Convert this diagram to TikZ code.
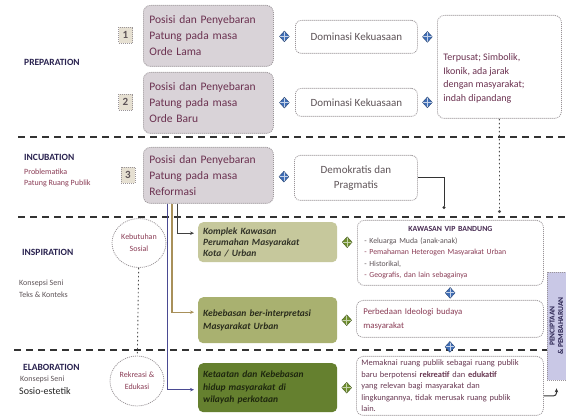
\documentclass[tikz,border=0pt]{standalone}
\usepackage{fontspec}
\setmainfont{Carlito}
\usetikzlibrary{arrows.meta,shapes.geometric,calc}
\definecolor{boxgray}{HTML}{D9D3D8}
\definecolor{bordergray}{HTML}{9A9498}
\definecolor{boxtext}{HTML}{6B3150}
\definecolor{greytext}{HTML}{5E5458}
\definecolor{navy}{HTML}{2A2350}
\definecolor{maroon}{HTML}{8A3C55}
\definecolor{numfill}{HTML}{E6E0D2}
\definecolor{arrblue}{HTML}{3F6DB5}
\definecolor{arrgreen}{HTML}{6E8E2E}
\definecolor{gA}{HTML}{C6C89C}
\definecolor{gB}{HTML}{A9B170}
\definecolor{gC}{HTML}{65802F}
\definecolor{lav}{HTML}{C9C8E6}
\definecolor{tan}{HTML}{A8905A}
\definecolor{bline}{HTML}{4A4A92}
\begin{document}
\begin{tikzpicture}[x=1pt,y=-1pt,
  base/.style={line width=0.8pt, dash pattern=on 1pt off 1pt, draw=bordergray, inner sep=0pt, anchor=north west},
  pbox/.style={base, rounded corners=7pt, fill=boxgray, align=left, text=boxtext, font=\fontsize{11.5}{16}\selectfont},
  wbox/.style={base, rounded corners=6pt, fill=white, align=center, text=greytext, font=\fontsize{11}{15}\selectfont},
  rbox/.style={base, rounded corners=7pt, fill=white, align=left, text=greytext},
  numbox/.style={draw=bordergray, line width=0.8pt, dash pattern=on 1pt off 1pt, fill=numfill, minimum width=14pt, minimum height=16pt, inner sep=0pt, font=\fontsize{11}{13}\selectfont\bfseries, text=greytext},
  grbox/.style={inner sep=0pt, anchor=north west, rounded corners=5pt, align=left, font=\fontsize{9.5}{11}\selectfont\bfseries\itshape},
  circ/.style={ellipse, draw=bordergray, line width=0.8pt, dash pattern=on 1pt off 1pt, fill=white, inner sep=0pt, align=center, text=maroon, font=\fontsize{8}{12}\selectfont},
  lab/.style={anchor=west, inner sep=0pt, text=navy, font=\fontsize{9.5}{11}\selectfont\bfseries},
  sublab/.style={anchor=west, inner sep=0pt, text=maroon, font=\fontsize{8}{10}\selectfont},
  sepline/.style={line width=2pt, draw=black!80, dash pattern=on 7pt off 5pt},
  dotl/.style={line width=0.9pt, draw=black!70, dash pattern=on 1.5pt off 2.5pt},
  bd/.style={diamond, fill=arrblue, draw=arrblue!60!black, line width=0.3pt, inner sep=0pt, minimum width=10pt, minimum height=11pt,
    path picture={\draw[white!70!arrblue, line width=0.8pt] (path picture bounding box.north) -- (path picture bounding box.south) (path picture bounding box.west) -- (path picture bounding box.east);}},
  gd/.style={bd, fill=arrgreen, draw=arrgreen!60!black, path picture={\draw[white!60!arrgreen, line width=0.8pt] (path picture bounding box.north) -- (path picture bounding box.south) (path picture bounding box.west) -- (path picture bounding box.east);}},
  tip/.style={-{Stealth[length=4pt,width=3.5pt]}}
]
\useasboundingbox (0,0) rectangle (566,417);
\fill[white] (0,0) rectangle (566,417);

% separator lines
\coordinate (l1a) at (18,137); \coordinate (l1b) at (566,137);
\coordinate (l2a) at (18,217); \coordinate (l2b) at (566,217);
\coordinate (l3a) at (14,350); \coordinate (l3b) at (566,350);
\draw[sepline] (l1a) -- (l1b);
\draw[sepline] (l2a) -- (l2b);
\draw[sepline] (l3a) -- (l3b);

% left labels
\node[lab] (lp) at (24,62) {PREPARATION};
\node[lab] (li) at (24,157) {INCUBATION};
\node[sublab] (li1) at (24,172) {Problematika};
\node[sublab] (li2) at (24,183) {Patung Ruang Publik};
\node[lab] (ls) at (22,252) {INSPIRATION};
\node[sublab, text=greytext] (ls1) at (19,283) {Konsepsi Seni};
\node[sublab, text=greytext] (ls2) at (19,295) {Teks  \&  Konteks};
\node[lab] (le) at (23,367) {ELABORATION};
\node[sublab, text=greytext] (le1) at (20,379) {Konsepsi Seni};
\node[sublab, text=black!85, font=\fontsize{10}{12}\selectfont] (le2) at (19,391) {Sosio-estetik};

% number boxes
\node[numbox] (n1) at (125.5,35) {1};
\node[numbox] (n2) at (125.5,102) {2};
\node[numbox] (n3) at (128,175) {3};

% gray boxes
\node[pbox, minimum width=130pt, minimum height=61pt, text width=118pt] (b1) at (143,5) {Posisi dan Penyebaran\\Patung  pada masa\\Orde Lama};
\node[pbox, minimum width=130pt, minimum height=61pt, text width=118pt] (b2) at (143,72) {Posisi dan Penyebaran\\Patung  pada masa\\Orde Baru};
\node[pbox, minimum width=130pt, minimum height=56pt, text width=118pt] (b3) at (143,147) {Posisi dan Penyebaran\\Patung  pada masa\\Reformasi};

% white boxes
\node[wbox, minimum width=122pt, minimum height=33pt] (d1) at (295,20) {Dominasi Kekuasaan};
\node[wbox, minimum width=122pt, minimum height=28pt] (d2) at (295,88) {Dominasi Kekuasaan};
\node[wbox, minimum width=123pt, minimum height=45pt] (dm) at (294,155) {Demokratis dan\\Pragmatis};
\node[rbox, minimum width=124pt, minimum height=103pt, text=boxtext, font=\fontsize{10}{13.5}\selectfont] (tp) at (437,15) {\parbox[c][70pt][b]{112pt}{Terpusat; Simbolik,\\Ikonik, ada jarak\\dengan masyarakat;\\indah dipandang}};

% diamonds top part
\path (b1) -- node[bd]{} (d1);
\path (b2) -- node[bd]{} (d2);
\path (b3) -- node[bd]{} (dm);
\path (d1.east) -- node[bd]{} (d1.east -| tp.west);
\path (d2.east) -- node[bd]{} (d2.east -| tp.west);

% dotted arrow from Terpusat, connector from Demokratis
\coordinate (tpe) at (499.5,213);
\draw[dotl, -{Circle[length=3pt]}] (tp.south) -- (tpe);
\coordinate (dme) at (444,209);
\draw[line width=1pt, draw=black!80, -{Circle[length=3pt]}] (dm.east) -| (dme);

% green boxes
\node[grbox, fill=gA, minimum width=139pt, minimum height=40pt, text width=129pt, text=black!75!gA] (g1) at (198,222) {Komplek Kawasan\\Perumahan Masyarakat\\Kota / Urban};
\node[grbox, fill=gB, minimum width=139pt, minimum height=46pt, text width=129pt, text=black!75!gB, font=\fontsize{9.5}{13}\selectfont\bfseries\itshape] (g2) at (198,297) {Kebebasan  ber-interpretasi\\Masyarakat Urban};
\node[grbox, fill=gC, minimum width=139pt, minimum height=49pt, text width=129pt, text=black!70!gC, font=\fontsize{9.5}{12.5}\selectfont\bfseries\itshape] (g3) at (198,363) {Ketaatan dan Kebebasan\\hidup masyarakat di\\wilayah perkotaan};

% circles
\node[circ, minimum width=54pt, minimum height=49pt] (c1) at (139,243) {Kebutuhan\\Sosial};
\node[circ, minimum width=54pt, minimum height=50pt] (c2) at (137,381) {Rekreasi \&\\Edukasi};
\draw[dotl] (c1) -- (c2);

% branch lines from box 3
\coordinate (s1) at ($(b3.south west)+(34,0)$);
\coordinate (s2) at ($(b3.south west)+(29,0)$);
\coordinate (s3) at ($(b3.south west)+(24,0)$);
\draw[tip, line width=1pt, draw=black!75] (s1) |- ($(g1.west)+(-4,-9)$);
\draw[tip, line width=1.3pt, draw=tan] (s2) |- ($(g2.west)+(-4,-8)$);
\draw[tip, line width=0.9pt, draw=bline] (s3) |- ($(g3.west)+(-4,2)$);

% right column boxes
\node[rbox, minimum width=186pt, minimum height=65pt, text width=172pt, font=\fontsize{7.8}{11.5}\selectfont] (kw) at (357,220) {\makebox[172pt]{\textcolor{navy!70!maroon}{\bfseries KAWASAN VIP BANDUNG}}\\- Keluarga Muda (anak-anak)\\\textcolor{maroon}{- Pemahaman Heterogen Masyarakat Urban}\\- Historikal,\\\textcolor{maroon}{- Geografis, dan lain sebagainya}};
\node[rbox, minimum width=187pt, minimum height=37pt, text width=173pt, text=maroon, font=\fontsize{8.8}{14}\selectfont] (pb) at (356,300) {Perbedaan  Ideologi  budaya\\masyarakat};
\node[rbox, minimum width=187pt, minimum height=59pt, text width=177pt, text=boxtext!80!greytext, font=\fontsize{8.4}{11.5}\selectfont] (mk) at (356,356) {Memaknai ruang publik sebagai ruang publik\\baru berpotensi \textbf{rekreatif} dan \textbf{edukatif}\\yang relevan bagi  masyarakat  dan\\lingkungannya, tidak  merusak ruang publik\\lain.};

% right lavender box
\node[draw=bordergray, line width=0.8pt, dash pattern=on 1pt off 1pt, fill=lav, rotate=90, minimum width=108pt, minimum height=19pt, inner sep=0pt, align=center, text=navy, font=\fontsize{7.5}{8.5}\selectfont\bfseries] (pv) at (556.5,326) {PENCIPTAAN\\\& PEMBAHARUAN};

% diamonds lower part
\path (g1.east) -- node[gd]{} (g1.east -| kw.west);
\path (g2.east) -- node[gd]{} (g2.east -| pb.west);
\path (g3.east) -- node[gd]{} (g3.east -| mk.west);
\path (kw.south) -- node[bd]{} (pb.north);
\path (pb.south) -- node[bd]{} (mk.north);

% arrow to lavender box
\draw[tip, line width=1pt, draw=black!80, rounded corners=3pt] ($(mk.east)+(0,10)$) -| ($(pv.west)+(0,8)$);
\end{tikzpicture}
\end{document}
